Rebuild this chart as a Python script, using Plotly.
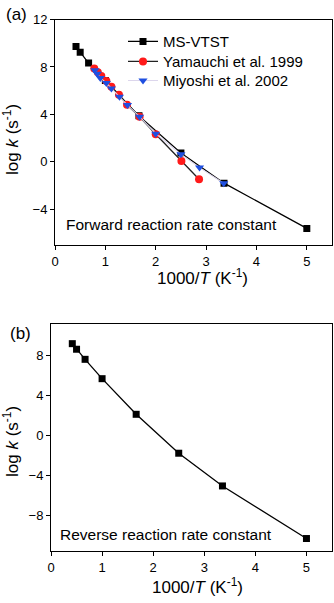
import plotly.graph_objects as go

# ---------------- data ----------------
# Panel (a): forward reaction rate constant
ms_x = [0.417, 0.5, 0.667, 1.0, 1.667, 2.5, 3.356, 5.0]
ms_fwd_y = [9.72, 9.25, 8.33, 6.85, 3.88, 0.75, -1.79, -5.6]

yam_x = [0.78, 0.85, 0.92, 1.02, 1.12, 1.27, 1.43, 1.68, 2.0, 2.51, 2.86]
yam_y = [7.87, 7.56, 7.23, 6.81, 6.33, 5.66, 4.82, 3.81, 2.33, 0.08, -1.46]

miy_x = [0.79, 0.84, 0.9, 1.02, 1.12, 1.28, 1.44, 1.68, 2.0, 2.5, 2.87, 3.35]
miy_y = [7.73, 7.42, 7.08, 6.66, 6.19, 5.49, 4.79, 3.81, 2.38, 0.65, -0.48, -1.79]

# Panel (b): reverse reaction rate constant
ms_rev_y = [9.23, 8.67, 7.66, 5.72, 2.15, -1.75, -5.03, -10.3]

x_ticks = [0, 1, 2, 3, 4, 5]
ya_ticks = [-4, 0, 4, 8, 12]
yb_ticks = [-8, -4, 0, 4, 8]

FONT = "Liberation Sans, Arial, sans-serif"
W, H = 334, 603

fig = go.Figure()

fig.add_trace(go.Scatter(x=ms_x, y=ms_fwd_y, mode="lines+markers", name="MS-VTST",
                         line=dict(color="black", width=1.3),
                         marker=dict(symbol="square", size=7, color="black"),
                         xaxis="x", yaxis="y", legend="legend"))
fig.add_trace(go.Scatter(x=yam_x, y=yam_y, mode="lines+markers", name="Yamauchi et al. 1999",
                         line=dict(color="#222222", width=1.3),
                         marker=dict(symbol="circle", size=8, color="#ff1a1a"),
                         xaxis="x", yaxis="y", legend="legend2"))
fig.add_trace(go.Scatter(x=miy_x, y=miy_y, mode="lines+markers", name="Miyoshi et al. 2002",
                         line=dict(color="#dcd6ec", width=1.1),
                         marker=dict(symbol="triangle-down", size=8, color="#1f4fe0"),
                         xaxis="x", yaxis="y", legend="legend3"))
fig.add_trace(go.Scatter(x=ms_x, y=ms_rev_y, mode="lines+markers", name="MS-VTST (reverse)",
                         line=dict(color="black", width=1.3),
                         marker=dict(symbol="square", size=7, color="black"),
                         showlegend=False, xaxis="x2", yaxis="y2"))

def px_x(p):
    return p / W

def px_y(p):
    return 1 - p / H

axis_common = dict(showline=True, linecolor="black", linewidth=1, mirror=True,
                   ticks="outside", ticklen=4, tickwidth=1, tickcolor="black",
                   showgrid=False, zeroline=False,
                   tickfont=dict(family=FONT, size=13, color="black"))

def leg(row_y):
    return dict(x=px_x(123), y=px_y(row_y), xanchor="left", yanchor="middle",
                bgcolor="rgba(0,0,0,0)", font=dict(family=FONT, size=15, color="black"),
                itemwidth=30)

fig.update_layout(
    width=W, height=H,
    margin=dict(l=0, r=0, t=0, b=0, autoexpand=False),
    paper_bgcolor="white", plot_bgcolor="white",
    font=dict(family=FONT, color="black"),
    xaxis=dict(domain=[px_x(55), px_x(332)], range=[0, 5.5], tickvals=x_ticks,
               anchor="y", **axis_common),
    yaxis=dict(domain=[px_y(245), px_y(19.5)], range=[-7, 12], tickvals=ya_ticks,
               anchor="x", **axis_common),
    xaxis2=dict(domain=[px_x(51), px_x(332)], range=[0, 5.5], tickvals=x_ticks,
                anchor="y2", **axis_common),
    yaxis2=dict(domain=[px_y(551), px_y(324)], range=[-11.55, 11.2], tickvals=yb_ticks,
                anchor="x2", **axis_common),
    legend=leg(41.7),
    legend2=leg(61.7),
    legend3=leg(80.7),
    showlegend=True,
)

ann = [
    dict(text="(a)", x=px_x(16), y=px_y(15), font=dict(size=17)),
    dict(text="(b)", x=px_x(20), y=px_y(333), font=dict(size=17)),
    dict(text="Forward reaction rate constant", x=px_x(172), y=px_y(224.5), font=dict(size=15.5)),
    dict(text="Reverse reaction rate constant", x=px_x(165.5), y=px_y(534.5), font=dict(size=15.5)),
    dict(text="1000/<i>T</i> (K<sup>-1</sup>)", x=px_x(202), y=px_y(277), font=dict(size=17)),
    dict(text="1000/<i>T</i> (K<sup>-1</sup>)", x=px_x(197), y=px_y(586), font=dict(size=17)),
    dict(text="log <i>k</i> (s<sup>-1</sup>)", x=px_x(11), y=px_y(140), font=dict(size=17), textangle=-90),
    dict(text="log <i>k</i> (s<sup>-1</sup>)", x=px_x(11), y=px_y(442), font=dict(size=17), textangle=-90),
]
for a in ann:
    a.update(xref="paper", yref="paper", showarrow=False, xanchor="center", yanchor="middle")
    a["font"] = dict(family=FONT, color="black", **a["font"])
fig.update_layout(annotations=ann)

fig.write_html("out.html", config={"displayModeBar": False},
               post_script="document.body.style.margin='0px';")
